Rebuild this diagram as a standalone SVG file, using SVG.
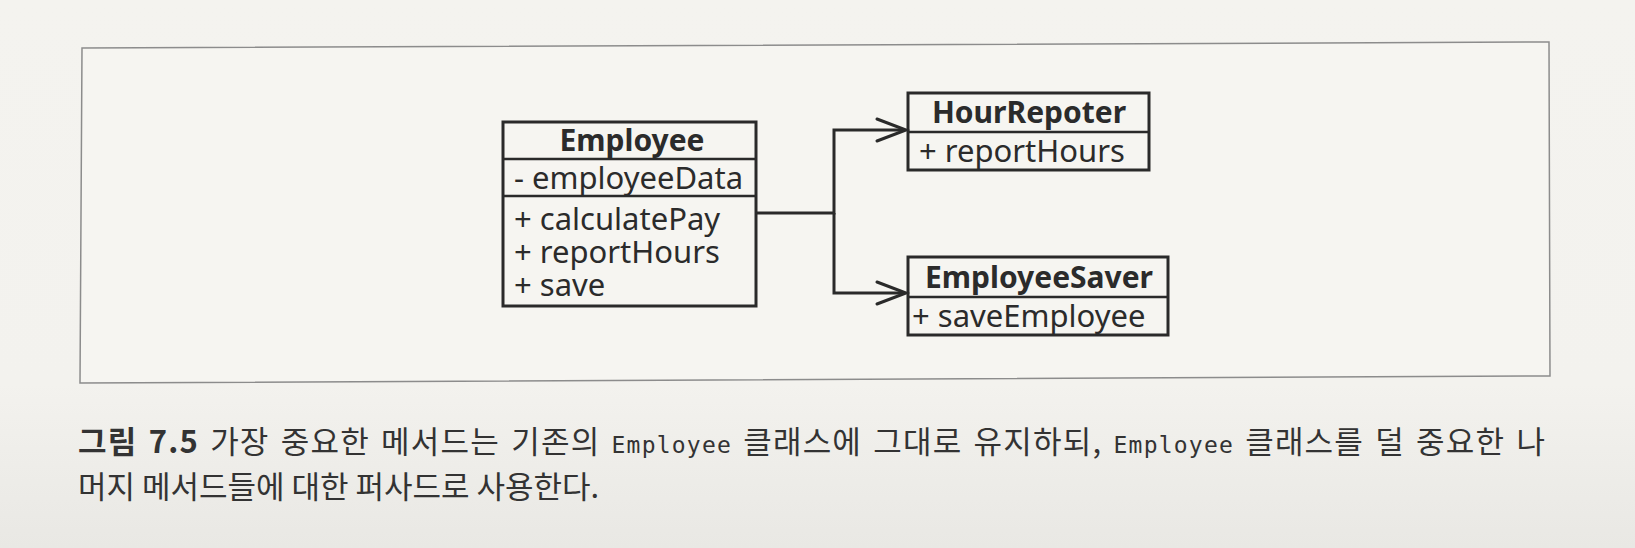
<svg xmlns="http://www.w3.org/2000/svg" width="1635" height="548" viewBox="0 0 1635 548">
  <defs>
    <linearGradient id="paper" x1="0" y1="0" x2="0" y2="1">
      <stop offset="0" stop-color="#f4f3ef"/>
      <stop offset="0.7" stop-color="#f3f2ee"/>
      <stop offset="1" stop-color="#e9e8e4"/>
    </linearGradient>
    <style>
      .box { fill: none; stroke: #2a2a2a; stroke-width: 3; }
      .div { stroke: #2a2a2a; stroke-width: 2.5; }
      .title { font-family: "Noto Sans", "Liberation Sans", sans-serif; font-size: 30px; font-weight: bold; fill: #2b2b2b; text-anchor: middle; }
      .member { font-family: "Noto Sans", "Liberation Sans", sans-serif; font-size: 31px; fill: #2b2b2b; }
      .conn { fill: none; stroke: #2a2a2a; stroke-width: 3; stroke-linejoin: miter; }
      .head { fill: none; stroke: #2a2a2a; stroke-width: 3; stroke-linecap: round; stroke-linejoin: miter; }
      .caption { font-family: "Noto Sans CJK KR", "Noto Sans", sans-serif; font-size: 31px; fill: #333333; }
      .mono { font-family: "DejaVu Sans Mono", "Liberation Mono", monospace; font-size: 23px; }
    </style>
  </defs>

  <rect x="0" y="0" width="1635" height="548" fill="url(#paper)"/>

  <g id="frame">
    <polygon points="82,48 1549,42 1550,376 80,383" fill="#f6f5f1" stroke="#8c8c8c" stroke-width="1.5"/>
  </g>

  <g id="connectors">
    <path class="conn" d="M756,213 H834 V130 H905"/>
    <path class="conn" d="M834,213 V293 H905"/>
    <path class="head" d="M877,119 L906,130 L877,141"/>
    <path class="head" d="M877,282 L906,293 L877,304"/>
  </g>

  <g id="employee">
    <rect class="box" x="503" y="122" width="253" height="184"/>
    <line class="div" x1="503" y1="159" x2="756" y2="159"/>
    <line class="div" x1="503" y1="196" x2="756" y2="196"/>
    <text class="title" x="632" y="151">Employee</text>
    <text class="member" x="514" y="189">- employeeData</text>
    <text class="member" x="514" y="230">+ calculatePay</text>
    <text class="member" x="514" y="263">+ reportHours</text>
    <text class="member" x="514" y="296">+ save</text>
  </g>

  <g id="hourRepoter">
    <rect class="box" x="908" y="93" width="241" height="77"/>
    <line class="div" x1="908" y1="132" x2="1149" y2="132"/>
    <text class="title" x="1029" y="123">HourRepoter</text>
    <text class="member" x="919" y="162">+ reportHours</text>
  </g>

  <g id="employeeSaver">
    <rect class="box" x="908" y="257" width="260" height="78"/>
    <line class="div" x1="908" y1="297" x2="1168" y2="297"/>
    <text class="title" x="1039" y="288">EmployeeSaver</text>
    <text class="member" x="912" y="327">+ saveEmployee</text>
  </g>

  <g id="caption">
    <text class="caption" x="78" y="453" word-spacing="3" textLength="1467" lengthAdjust="spacing"><tspan font-weight="bold">그림 7.5</tspan> 가장 중요한 메서드는 기존의 <tspan class="mono">Employee</tspan> 클래스에 그대로 유지하되, <tspan class="mono">Employee</tspan> 클래스를 덜 중요한 나</text>
    <text class="caption" x="78" y="498">머지 메서드들에 대한 퍼사드로 사용한다.</text>
  </g>
</svg>
